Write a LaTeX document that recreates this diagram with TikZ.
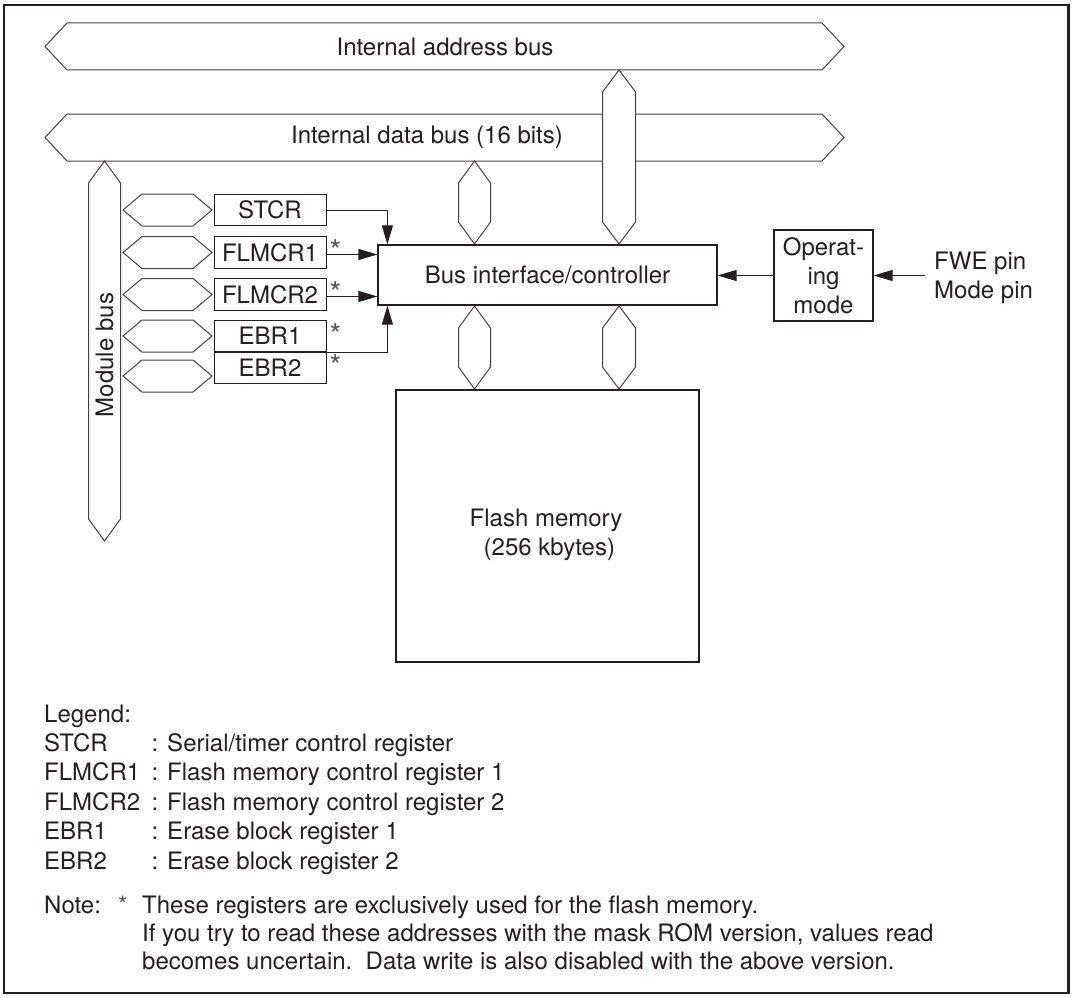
\documentclass[tikz,border=0pt]{standalone}
\usepackage{fontspec}
\setmainfont{TeX Gyre Heros}
\usetikzlibrary{arrows.meta}

\definecolor{ink}{HTML}{231F20}

% horizontal bus: left tip x, right tip x, centre y, half height, tip length
\newcommand{\hbus}[5]{%
  \draw[bus] (#1,#3) -- (#1+#5,#3-#4) -- (#2-#5,#3-#4) -- (#2,#3)
    -- (#2-#5,#3+#4) -- (#1+#5,#3+#4) -- cycle;}
% vertical bus: centre x, top tip y, bottom tip y, half width, tip length
\newcommand{\vbus}[5]{%
  \draw[bus] (#1,#2) -- (#1+#4,#2+#5) -- (#1+#4,#3-#5) -- (#1,#3)
    -- (#1-#4,#3-#5) -- (#1-#4,#2+#5) -- cycle;}

\tikzset{
  bus/.style={draw=ink!85, fill=white, line width=1pt, line join=miter},
  regbox/.style={draw=ink, line width=1pt, minimum width=112pt, minimum height=31.5pt, inner sep=0pt, text=ink},
  block/.style={draw=ink, line width=1.2pt, inner sep=0pt, text=ink, align=center},
  arr/.style={draw=ink, line width=1pt, -{Triangle[length=19pt,width=11pt]}},
  starnote/.style={inner sep=0pt, anchor=north, text=ink!75, font=\fontsize{30}{30}\selectfont},
  txt/.style={anchor=base west, inner sep=0pt, text=ink}
}

\begin{document}
\begin{tikzpicture}[x=1pt, y=-1pt, font=\fontsize{24}{29}\selectfont]
    \useasboundingbox (0,0) rectangle (1076,998);
    \draw[line width=2.5pt, draw=ink] (4,5) rectangle (1068.5,993);

    % internal buses
    \hbus{45}{844}{46.5}{23.5}{22}
    \hbus{45}{844}{137.5}{23.5}{22}
    \node[text=ink] (addrbus) at (445,46.5) {Internal address bus};
    \node[text=ink] (databus) at (427,137.5) {Internal data bus (16 bits)};
    \vbus{619}{70}{244}{16.5}{22}
    \vbus{474.5}{161}{244}{16}{22}
    \vbus{474.5}{306}{389}{16}{22}
    \vbus{619}{306}{389}{16.5}{22}

    % module bus and registers
    \vbus{104.5}{161}{541}{16}{22}
    \node[rotate=90, text=ink] (modbus) at (104.5,355) {Module bus};
    \foreach \yc in {210,252.5,294.5,336,376}
        {\hbus{123}{212}{\yc}{16}{19}}

    \node[regbox] (stcr) at (270,210) {STCR};
    \node[regbox] (flmcrA) at (270,252.5) {FLMCR1};
    \node[regbox] (flmcrB) at (270,294.5) {FLMCR2};
    \node[regbox] (ebrA) at (270,336.2) {EBR1};
    \node[regbox] (ebrB) at (270,367.8) {EBR2};
    \foreach \r in {flmcrA,flmcrB,ebrA,ebrB}
        \node[starnote] (ast\r) at ([xshift=9pt,yshift=-3pt]\r.north east) {*};

    % controller, flash, operating mode
    \node[block, minimum width=339pt, minimum height=60pt] (ctrl) at (547.5,275) {Bus interface/controller};
    \node[block, minimum width=303pt, minimum height=272pt] (flash) at (547.5,526) {};
    \node[text=ink, align=center] (flashtxt) at (546,535) {Flash memory\\\ (256 kbytes)};
    \node[block, minimum width=99pt, minimum height=91pt] (opmode) at (823.5,275.5) {Operat-\\ing\\mode};
    \node[anchor=west, align=left, inner xsep=9pt, text=ink] (pins) at (925,278) {FWE pin\\Mode pin};

    \draw[arr] (stcr.east) -| ([xshift=10pt]ctrl.north west);
    \draw[arr] ([yshift=-2pt]flmcrA.east) -- ([yshift=-2pt]flmcrA.east -| ctrl.west);
    \draw[arr] ([yshift=-2pt]flmcrB.east) -- ([yshift=-2pt]flmcrB.east -| ctrl.west);
    \draw[arr] (ebrA.south east) -| ([xshift=10pt]ctrl.south west);
    \draw[arr] (opmode.west) -- (opmode.west -| ctrl.east);
    \draw[arr] (pins.west |- opmode.east) -- (opmode.east);

    % legend
    \node[txt] (legendhead) at (44,722) {Legend:};
    \foreach \abbr/\desc [count=\i] in {STCR/{Serial/timer control register},
        FLMCR1/{Flash memory control register 1}, FLMCR2/{Flash memory control register 2},
        EBR1/{Erase block register 1}, EBR2/{Erase block register 2}}
        \node[txt] (legend\i) at (44,722+29.4*\i) {\makebox[107.5pt][l]{\abbr}: \desc};

    % note
    \node[txt] (note) at (44,913) {Note:};
    \node[txt, text=ink!75] (noteast) at (118,913) {*};
    \node[txt] (noteA) at (142,913) {These registers are exclusively used for the flash memory.};
    \node[txt] (noteB) at (142,941) {If you try to read these addresses with the mask ROM version, values read};
    \node[txt] (noteC) at (142,969) {becomes uncertain.\ \ Data write is also disabled with the above version.};
\end{tikzpicture}
\end{document}
